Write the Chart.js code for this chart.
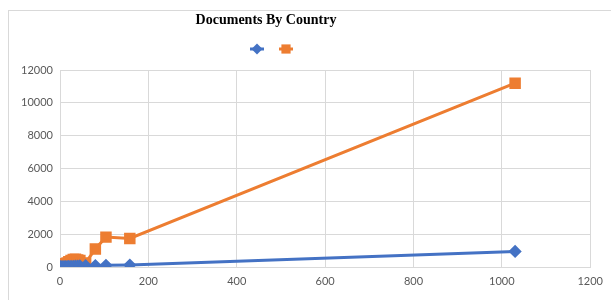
<!DOCTYPE html>
<html>
<head>
<meta charset="utf-8">
<script src="https://cdn.jsdelivr.net/npm/chart.js@4"></script>
<style>
  html, body { margin: 0; padding: 0; background: #fff; overflow: hidden; }
  #wrap { position: relative; width: 611px; height: 300px; }
</style>
</head>
<body>
<div id="wrap"><canvas id="chart" width="611" height="300"></canvas></div>
<script>
// Data
const countryX = [1, 2, 4, 6, 9, 12, 16, 20, 25, 30, 35, 40, 45, 58, 80, 104, 158, 1030];
const seriesBlue = [5, 10, 12, 15, 20, 25, 30, 35, 40, 45, 50, 60, 70, 80, 90, 100, 120, 950];
const seriesOrange = [30, 80, 60, 150, 120, 200, 250, 320, 400, 450, 480, 420, 400, 250, 1100, 1820, 1740, 11200];
const xTicks = [0, 200, 400, 600, 800, 1000, 1200];
const yTicks = [0, 2000, 4000, 6000, 8000, 10000, 12000];

const BLUE = '#4472C4';
const ORANGE = '#ED7D31';
const GRID = '#d9d9d9';

function toPoints(xs, ys){
  return xs.map((x, i) => ({x: x, y: ys[i]}));
}

// Title, legend and outer frame drawn by hand (Excel style placement)
const excelDecor = {
  id: 'excelDecor',
  beforeDraw(chart){
    const ctx = chart.ctx;
    ctx.save();
    ctx.fillStyle = '#fff';
    ctx.fillRect(0, 0, chart.width, chart.height);
    ctx.strokeStyle = GRID;
    ctx.lineWidth = 1;
    ctx.strokeRect(8.5, 10.5, 700, 400);
    ctx.restore();
  },
  afterDraw(chart){
    const ctx = chart.ctx;
    ctx.save();
    // title
    ctx.fillStyle = '#000';
    ctx.font = 'bold 14px "Liberation Serif", serif';
    ctx.textAlign = 'center';
    ctx.textBaseline = 'middle';
    ctx.fillText('Documents By Country', 266, 20);
    // legend
    const items = [
      {x: 257, color: BLUE, style: 'rectRot', r: 5.5},
      {x: 286, color: ORANGE, style: 'rect', r: 6.5}
    ];
    items.forEach(it => {
      ctx.strokeStyle = it.color;
      ctx.lineWidth = 3;
      ctx.beginPath();
      ctx.moveTo(it.x - 7, 49);
      ctx.lineTo(it.x + 7, 49);
      ctx.stroke();
      ctx.fillStyle = it.color;
      Chart.helpers.drawPoint(ctx, {pointStyle: it.style, radius: it.r, rotation: 0, borderWidth: 0}, it.x, 49);
    });
    ctx.restore();
  }
};

const data = {
  datasets: [
    {
      label: '',
      data: toPoints(countryX, seriesBlue),
      borderColor: BLUE,
      backgroundColor: BLUE,
      borderWidth: 3,
      pointStyle: 'rectRot',
      pointRadius: 4.5,
      showLine: true
    },
    {
      label: '',
      data: toPoints(countryX, seriesOrange),
      borderColor: ORANGE,
      backgroundColor: ORANGE,
      borderWidth: 3,
      pointStyle: 'rect',
      pointRadius: 6,
      showLine: true
    }
  ]
};

const config = {
  type: 'scatter',
  data,
  options: {
    responsive: false,
    animation: false,
    layout: {
      padding: {top: 70, right: 20, bottom: 0, left: 0}
    },
    plugins: {
      legend: {display: false},
      title: {display: false},
      tooltip: {enabled: false}
    },
    scales: {
      x: {
        type: 'linear',
        min: 0,
        max: 1200,
        afterBuildTicks: scale => { scale.ticks = xTicks.map(v => ({value: v})); },
        afterFit: scale => { scale.height = 33; },
        grid: {color: GRID, drawTicks: false, lineWidth: 1},
        border: {color: GRID},
        ticks: {
          padding: 8,
          color: '#595959',
          font: {family: 'Lato', size: 11},
          callback: v => String(v)
        }
      },
      y: {
        type: 'linear',
        min: 0,
        max: 12000,
        afterBuildTicks: scale => { scale.ticks = yTicks.map(v => ({value: v})); },
        afterFit: scale => { scale.width = 60; },
        grid: {color: GRID, drawTicks: false, lineWidth: 1},
        border: {color: GRID},
        ticks: {
          padding: 7,
          color: '#595959',
          font: {family: 'Lato', size: 11},
          callback: v => String(v)
        }
      }
    }
  },
  plugins: [excelDecor]
};

new Chart(document.getElementById('chart'), config);
</script>
</body>
</html>
